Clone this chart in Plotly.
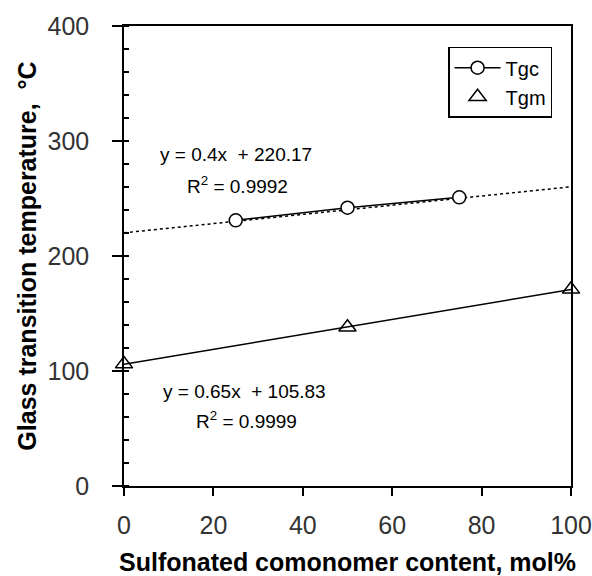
import plotly.graph_objects as go

# Data
tgc_x = [25, 50, 75]
tgc_y = [231, 242, 251]
tgm_x = [0, 50, 100]
tgm_y = [106, 138, 171]

trend_x = [0, 100]
tgc_trend_y = [220.17, 260.17]
tgm_trend_y = [105.83, 170.83]

x_ticks = [0, 20, 40, 60, 80, 100]
y_ticks = [0, 100, 200, 300, 400]

FONT = "Liberation Sans, Arial, sans-serif"

fig = go.Figure()

# Tgc linear trendline (dotted)
fig.add_trace(go.Scatter(
    x=trend_x, y=tgc_trend_y, mode="lines",
    line=dict(color="black", width=1.5, dash="dot"),
    showlegend=False, hoverinfo="skip"))

# Tgm linear trendline (solid)
fig.add_trace(go.Scatter(
    x=trend_x, y=tgm_trend_y, mode="lines",
    line=dict(color="black", width=1.5),
    showlegend=False, hoverinfo="skip"))

# Tgc series
fig.add_trace(go.Scatter(
    x=tgc_x, y=tgc_y, mode="lines+markers", name="Tgc",
    line=dict(color="black", width=1.5),
    marker=dict(symbol="circle", size=13, color="white",
                line=dict(color="black", width=1.5))))

# Tgm series
fig.add_trace(go.Scatter(
    x=tgm_x, y=tgm_y, mode="markers", name="Tgm", cliponaxis=False,
    marker=dict(symbol="triangle-up", size=15, color="rgba(255,255,255,0)",
                line=dict(color="black", width=1.5))))

fig.add_annotation(x=25.0, y=288, text="y = 0.4x  + 220.17", showarrow=False,
                   font=dict(family=FONT, size=19, color="black"))
fig.add_annotation(x=25.5, y=262, text="R<sup>2</sup> = 0.9992", showarrow=False,
                   font=dict(family=FONT, size=19, color="black"))
fig.add_annotation(x=27, y=82, text="y = 0.65x  + 105.83", showarrow=False,
                   font=dict(family=FONT, size=19, color="black"))
fig.add_annotation(x=27.5, y=57, text="R<sup>2</sup> = 0.9999", showarrow=False,
                   font=dict(family=FONT, size=19, color="black"))

fig.update_layout(
    width=592, height=576,
    margin=dict(l=124, r=21, t=26, b=90, autoexpand=False),
    paper_bgcolor="white", plot_bgcolor="white",
    font=dict(family=FONT, color="black"),
    legend=dict(x=0.725, y=0.955, xanchor="left", yanchor="top",
                bgcolor="white", bordercolor="black", borderwidth=1.5,
                font=dict(family=FONT, size=20, color="black"),
                itemwidth=46, tracegroupgap=0),
    showlegend=True,
)

fig.update_xaxes(
    range=[0, 100], tickvals=x_ticks, ticktext=[str(v) for v in x_ticks],
    automargin=False,
    showgrid=False, zeroline=False,
    showline=True, linecolor="black", linewidth=1.5, mirror=True,
    ticks="outside", ticklen=8, tickwidth=1.5, tickcolor="black",
    tickfont=dict(family=FONT, size=25, color="#333333"),
    ticklabelstandoff=8,
    title=dict(text="<b>Sulfonated comonomer content, mol%</b>",
               font=dict(family=FONT, size=25, color="black"), standoff=20),
)
fig.update_yaxes(
    range=[0, 400], tickvals=y_ticks, ticktext=[str(v) for v in y_ticks],
    automargin=False,
    showgrid=False, zeroline=False,
    showline=True, linecolor="black", linewidth=1.5, mirror=True,
    ticks="outside", ticklen=10, tickwidth=1.5, tickcolor="black",
    minor=dict(ticks="inside", dtick=20, ticklen=5, tickwidth=1.5,
               tickcolor="black", showgrid=False),
    tickfont=dict(family=FONT, size=25, color="#333333"),
    ticklabelstandoff=18,
    title=dict(text="<b>Glass transition temperature,  °C</b>",
               font=dict(family=FONT, size=25, color="black"), standoff=4),
)

fig.write_html("out.html")
